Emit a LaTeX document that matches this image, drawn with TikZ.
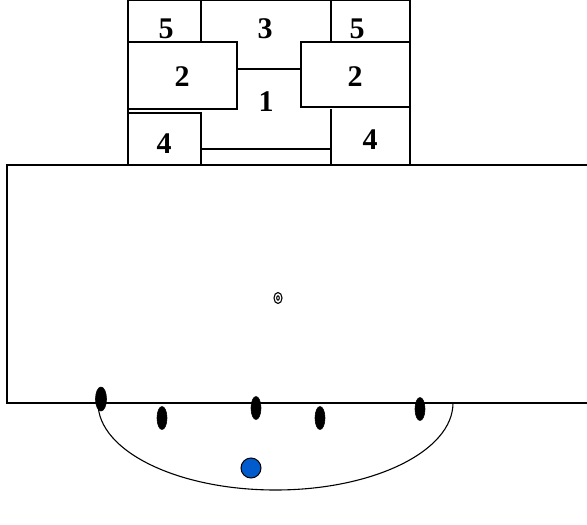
\documentclass[tikz,border=0pt]{standalone}
\usepackage{fontspec}
\setmainfont{Liberation Serif}
\usepackage{tikz}

\begin{document}
\begin{tikzpicture}[
  x=1pt, y=-1pt,
  line width=1.6pt,
  num/.style={font=\fontsize{30}{30}\selectfont\bfseries, inner sep=0pt},
  zone/.style={draw, line width=1.6pt},
  player/.style={fill=black, draw=black, line width=0.6pt},
  ball/.style={fill=blue!55!cyan!80!black, draw=black, line width=1pt}
]
\useasboundingbox (0,0) rectangle (587,525);

% goal area zones
\draw[zone] (128,0) rectangle (410,165);
\draw[zone] (201,0) -- (201,42);
\draw[zone] (331,0) -- (331,42);
\draw[zone, fill=white] (128,42) rectangle (237,109);
\draw[zone, fill=white] (301,42) rectangle (410,107);
\draw[zone] (237,69) -- (301,69);
\draw[zone] (128,113) -- (201,113) -- (201,165);
\draw[zone] (331,109) -- (331,165);
\draw[zone] (201,149) -- (331,149);

\node[num] (z5a) at (166,29) {5};
\node[num] (z3)  at (265,29) {3};
\node[num] (z5b) at (357,29) {5};
\node[num] (z2a) at (182,77) {2};
\node[num] (z2b) at (355,77) {2};
\node[num] (z1)  at (266,102) {1};
\node[num] (z4a) at (164,144) {4};
\node[num] (z4b) at (370,140) {4};

% court
\draw[zone] (587,165) -- (7,165) -- (7,403) -- (587,403);
\draw[line width=1.1pt] (278,298) ellipse (4 and 5.5);
\draw[line width=1pt] (278,298) ellipse (1.3 and 2.2);

% line of defenders and arc
\draw[line width=1.1pt] (98,403) arc[start angle=180, end angle=0, x radius=177.5, y radius=87];
\fill[player] (101,399) ellipse (5.5 and 12);
\fill[player] (162,418) ellipse (5 and 11.5);
\fill[player] (256,408) ellipse (5 and 11.5);
\fill[player] (320,418) ellipse (5 and 11.5);
\fill[player] (420,409) ellipse (5 and 11.5);
\filldraw[ball] (251,468) circle (10);
\end{tikzpicture}
\end{document}
